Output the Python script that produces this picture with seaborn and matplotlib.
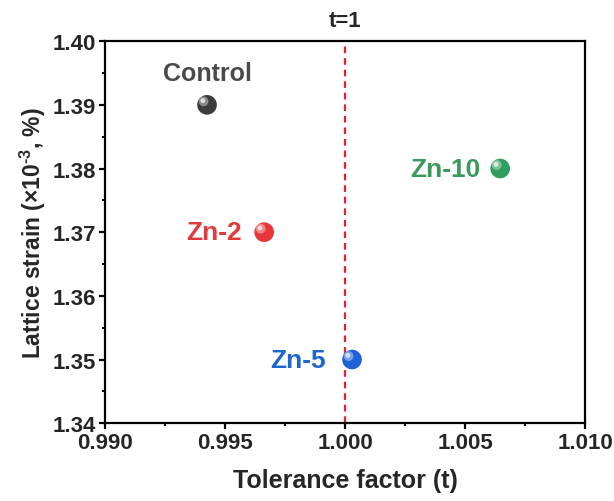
import matplotlib
matplotlib.use("Agg")
import matplotlib.pyplot as plt
import matplotlib.transforms as mtransforms
from matplotlib.ticker import MultipleLocator, FormatStrFormatter
import seaborn as sns
import pandas as pd

samples = ["Control", "Zn-2", "Zn-5", "Zn-10"]
tolerance = [0.99425, 0.99663, 1.00029, 1.00646]
strain = [1.390, 1.370, 1.350, 1.380]
marker_colors = ["#3c3c3c", "#e8363a", "#1f62d6", "#2f9e5f"]
text_colors = ["#4a4a4a", "#e23a3a", "#1f66cc", "#3a9a5c"]

df = pd.DataFrame({"sample": samples, "t": tolerance, "strain": strain})

sns.set_theme(style="ticks")
plt.rcParams["font.family"] = ["Liberation Sans", "DejaVu Sans"]
plt.rcParams["font.weight"] = "bold"
plt.rcParams["mathtext.fontset"] = "custom"
plt.rcParams["mathtext.rm"] = "Liberation Sans:bold"
plt.rcParams["mathtext.bf"] = "Liberation Sans:bold"
plt.rcParams["mathtext.default"] = "rm"

fig = plt.figure(figsize=(6.14, 5.02), dpi=100)
ax = fig.add_axes([0.171, 0.155, 0.782, 0.761])

sns.scatterplot(data=df, x="t", y="strain", hue="sample", palette=marker_colors,
                s=200, edgecolor="none", legend=False, ax=ax, zorder=3)
# sphere highlight
off = mtransforms.ScaledTranslation(-2.5/72, 2.5/72, fig.dpi_scale_trans)
ax.scatter(df["t"], df["strain"], s=50, color="white", alpha=0.4,
           edgecolor="none", transform=ax.transData + off, zorder=4)
off2 = mtransforms.ScaledTranslation(-3/72, 3/72, fig.dpi_scale_trans)
ax.scatter(df["t"], df["strain"], s=12, color="white", alpha=0.7,
           edgecolor="none", transform=ax.transData + off2, zorder=5)

ax.axvline(1.000, color="#e8202a", linestyle=(0, (3, 2.2)), linewidth=1.6, zorder=2)
ax.annotate("t=1", (1.000, 1.40), xytext=(0, 7), textcoords="offset points",
            ha="center", va="bottom", fontsize=16, fontweight="bold")

offsets = {"Control": (0, 23, "center", "center", 18),
           "Zn-2": (-16, 0, "right", "center", 19),
           "Zn-5": (-19, 0, "right", "center", 19),
           "Zn-10": (-14, 0, "right", "center", 19)}
for name, x, y, c in zip(samples, tolerance, strain, text_colors):
    dx, dy, ha, va, fs = offsets[name]
    ax.annotate(name, (x, y), xytext=(dx, dy), textcoords="offset points",
                ha=ha, va=va, fontsize=fs, fontweight="bold", color=c)

ax.set_xlim(0.990, 1.010)
ax.set_ylim(1.34, 1.40)
ax.xaxis.set_major_locator(MultipleLocator(0.005))
ax.xaxis.set_minor_locator(MultipleLocator(0.0025))
ax.yaxis.set_major_locator(MultipleLocator(0.01))
ax.yaxis.set_minor_locator(MultipleLocator(0.005))
ax.xaxis.set_major_formatter(FormatStrFormatter("%.3f"))
ax.yaxis.set_major_formatter(FormatStrFormatter("%.2f"))

ax.set_xlabel("Tolerance factor (t)", fontsize=18, fontweight="bold", labelpad=11)
ax.set_ylabel(r"Lattice strain (×10$^{\text{-3}}$, %)", fontsize=16.5, fontweight="bold", labelpad=3)

for sp in ax.spines.values():
    sp.set_linewidth(1.6)
    sp.set_color("black")
ax.tick_params(which="major", direction="out", length=4.5, width=1.6, labelsize=16,
               color="black", pad=2)
ax.tick_params(which="minor", direction="out", length=2.5, width=1.4, color="black")
for lab in ax.get_xticklabels() + ax.get_yticklabels():
    lab.set_fontweight("bold")

fig.savefig("out.png", dpi=100)
